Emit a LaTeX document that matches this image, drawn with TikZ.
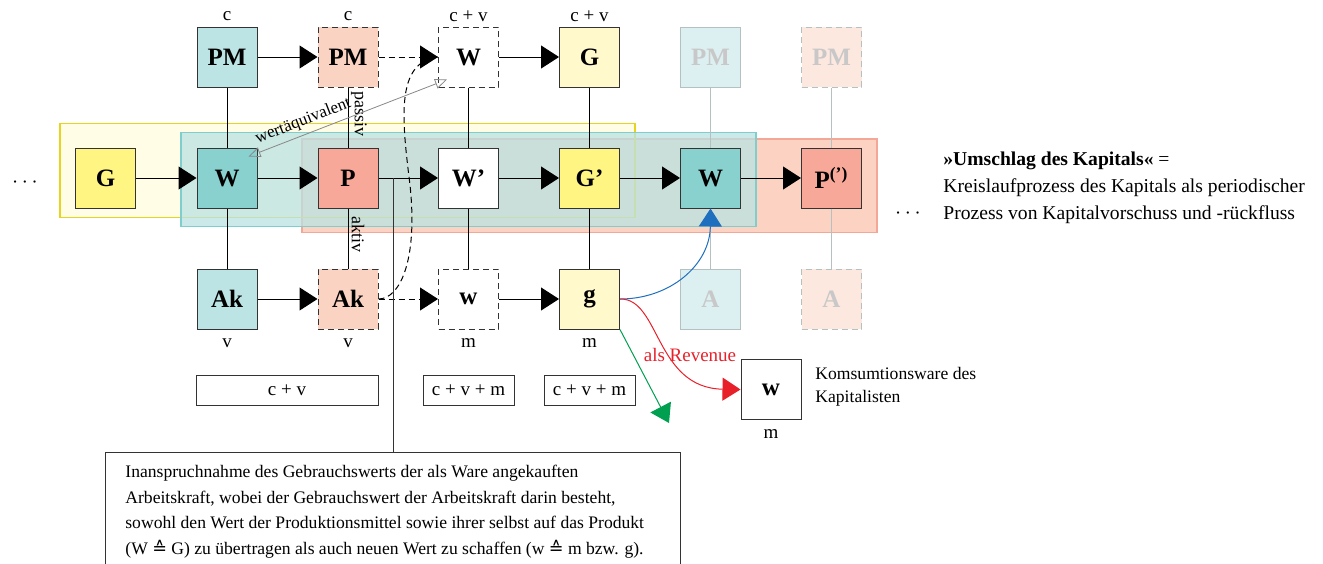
\documentclass[tikz,border=0pt]{standalone}
\usepackage{fontspec}
\setmainfont{Liberation Serif}
\newfontfamily\symf{DejaVu Sans}
\usetikzlibrary{arrows.meta,calc}
\pgfdeclarelayer{bg}
\pgfsetlayers{bg,main}
\definecolor{tealD}{HTML}{88D1CF}
\definecolor{tealL}{HTML}{BDE4E4}
\definecolor{salD}{HTML}{F7A898}
\definecolor{salL}{HTML}{FBD3C3}
\definecolor{yelD}{HTML}{FFF583}
\definecolor{yelL}{HTML}{FFF9CC}
\definecolor{fadeT}{HTML}{DDF0F1}
\definecolor{fadeS}{HTML}{FDE8E0}
\definecolor{fadeline}{HTML}{B5C0C0}
\definecolor{fadetext}{HTML}{C8C8C8}
\definecolor{boxline}{HTML}{333333}
\definecolor{yrectline}{HTML}{E8D41C}
\definecolor{yrectfill}{HTML}{FFFDE6}
\definecolor{trectline}{HTML}{7FCDCC}
\definecolor{trectfill}{HTML}{BBE2E2}
\definecolor{srectline}{HTML}{F3A796}
\definecolor{srectfill}{HTML}{FCD3C2}
\definecolor{blueA}{HTML}{1F6FBF}
\definecolor{redA}{HTML}{E8202A}
\definecolor{greenA}{HTML}{00A050}
\definecolor{wline}{HTML}{888888}
\tikzset{
  box/.style={draw=boxline, line width=0.5pt, minimum size=30pt, inner sep=0pt,
    font=\fontsize{12.5}{14}\selectfont\bfseries, text=black},
  dashpat/.style={dash pattern=on 3pt off 2pt},
  fbox/.style={box, draw=fadeline, text=fadetext},
  lab/.style={font=\fontsize{9.5}{11}\selectfont, inner sep=0pt},
  smalllab/.style={font=\fontsize{8.5}{10}\selectfont, inner sep=0pt},
  conn/.style={line width=0.5pt, draw=black},
  arr/.style={conn, -{Triangle[length=9pt,width=11.5pt]}},
  darr/.style={arr, dashpat},
  thinl/.style={draw=fadeline, line width=0.4pt},
  sumbox/.style={draw=boxline, line width=0.5pt, minimum height=15pt, inner sep=0pt,
    font=\fontsize{9.5}{11}\selectfont},
  wlinestyle/.style={draw=wline, line width=0.4pt,
    {Triangle[open,length=6pt,width=5pt]}-{Triangle[open,length=6pt,width=5pt]}},
  colarr/.style={line width=0.5pt, -{Triangle[length=9pt,width=11.5pt]}},
}
\begin{document}
\begin{tikzpicture}[x=0.5pt,y=-0.5pt]
\useasboundingbox (0,0) rectangle (1323,563);
\clip (0,0) rectangle (1323,563);

% background rectangles
\begin{pgfonlayer}{bg}
\fill[yrectfill] (60,123.5) rectangle (635,217.5);
\draw[draw=srectline, fill=srectfill, line width=0.75pt] (302,139) rectangle (877,232.5);
\draw[draw=yrectline, line width=0.75pt] (60,123.5) rectangle (635,217.5);
\draw[draw=trectline, fill=trectfill, fill opacity=0.76, line width=0.75pt] (181,132.7) rectangle (756,226.7);
\end{pgfonlayer}

% top row
\node[box, fill=tealL] (PM1) at (227,57) {PM};
\node[box, fill=salL, dashpat] (PM2) at (348,57) {PM};
\node[box, fill=white, dashpat] (W3t) at (468.5,57) {W};
\node[box, fill=yelL] (G4t) at (589.5,57) {G};
\node[fbox, fill=fadeT] (PM5) at (710.5,57) {PM};
\node[fbox, fill=fadeS, dashpat] (PM6) at (831.5,57) {PM};

% middle row
\node[box, fill=yelD] (G0) at (105.5,178) {G};
\node[box, fill=tealD] (W1) at (227,178) {W};
\node[box, fill=salD] (P2) at (348,178) {P};
\node[box, fill=white] (Wp3) at (468.5,178) {W’};
\node[box, fill=yelD] (Gp4) at (589.5,178) {G’};
\node[box, fill=tealD] (W5) at (710.5,178) {W};
\node[box, fill=salD] (P6) at (831.5,178) {P\textsuperscript{(’)}};

% bottom row
\node[box, fill=tealL] (Ak1) at (227,299) {Ak};
\node[box, fill=salL, dashpat] (Ak2) at (348,299) {Ak};
\node[box, fill=white, dashpat] (w3) at (468.5,299) {w};
\node[box, fill=yelL] (g4) at (589.5,299) {g};
\node[fbox, fill=fadeT] (A5) at (710.5,299) {A};
\node[fbox, fill=fadeS, dashpat] (A6) at (831.5,299) {A};

\node[box, fill=white] (wk) at (771,389.5) {w};

% value labels
\node[lab] (t1) at (227,16) {c};
\node[lab] (t2) at (348,16) {c};
\node[lab] (t3) at (468.5,16) {c + v};
\node[lab] (t4) at (589.5,16) {c + v};
\node[lab] (b1) at (227,343) {v};
\node[lab] (b2) at (348,343) {v};
\node[lab] (b3) at (468.5,343) {m};
\node[lab] (b4) at (589.5,343) {m};
\node[lab] (b5) at (771,434) {m};

% sum boxes
\node[sumbox, minimum width=91pt] (s1) at (287,390) {c + v};
\node[sumbox, minimum width=45.5pt] (s2) at (468.5,390) {c + v + m};
\node[sumbox, minimum width=45.5pt] (s3) at (589.5,390) {c + v + m};

% dots
\node[inner sep=0pt, font=\fontsize{11}{12}\selectfont] (dotsL) at (25,183) {$\cdots$};
\node[inner sep=0pt, font=\fontsize{11}{12}\selectfont] (dotsR) at (908,214) {$\cdots$};

% horizontal arrows
\draw[arr] (PM1) -- (PM2);
\draw[darr] (PM2) -- (W3t);
\draw[arr] (W3t) -- (G4t);
\draw[arr] (G0) -- (W1);
\draw[arr] (W1) -- (P2);
\draw[arr] (P2) -- (Wp3);
\draw[arr] (Wp3) -- (Gp4);
\draw[arr] (Gp4) -- (W5);
\draw[arr] (W5) -- (P6);
\draw[arr] (Ak1) -- (Ak2);
\draw[darr] (Ak2) -- (w3);
\draw[arr] (w3) -- (g4);

% vertical lines
\draw[conn] (PM1) -- (W1);
\draw[conn] (W1) -- (Ak1);
\draw[conn] (PM2) -- (P2);
\draw[conn] (P2) -- (Ak2);
\draw[conn] (W3t) -- (Wp3);
\draw[conn] (Wp3) -- (w3);
\draw[conn] (G4t) -- (Gp4);
\draw[conn] (Gp4) -- (g4);
\draw[thinl] (PM5) -- (W5);
\draw[thinl] (W5) -- (A5);
\draw[thinl] (PM6) -- (P6);
\draw[thinl] (P6) -- (A6);

\node[inner sep=0pt, font=\fontsize{9}{10}\selectfont, rotate=-90] (passiv) at (359,114) {passiv};
\node[inner sep=0pt, font=\fontsize{9}{10}\selectfont, rotate=-90] (aktiv) at (358,234) {aktiv};

% wertaequivalent
\draw[wlinestyle] ($(W1.north east)+(-9,9)$) -- ($(W3t.south west)+(9,-8)$)
  node[smalllab, pos=0.3, above=2.5pt, sloped] (wlab) {wertäquivalent};

% dashed curve
\draw[conn, dashpat] (Ak2.east) .. controls (400,299) and (418,260) .. (410,185)
  .. controls (402,120) and (395,62) .. (W3t.west);

% note box
\node[draw=boxline, line width=0.5pt, anchor=north west, minimum width=287.5pt,
  minimum height=70pt, inner sep=0pt] (note) at (105,452) {};
\node[anchor=north west, inner sep=0pt, align=left,
  font=\fontsize{8.8}{12.75}\selectfont] (notetext) at (125,465)
  {Inanspruchnahme des Gebrauchswerts der als Ware angekauften\\
   Arbeitskraft, wobei der Gebrauchswert der Arbeitskraft darin besteht,\\
   sowohl den Wert der Produktionsmittel sowie ihrer selbst auf das Produkt\\
   (W {\symf ≙} G) zu übertragen als auch neuen Wert zu schaffen (w {\symf ≙} m bzw. g).};
\coordinate (cp) at (393,178);
\draw[conn, draw=boxline] (cp) -- (cp |- note.north);

% coloured arrows
\draw[colarr, draw=blueA] (g4.east) .. controls (670,299) and (710,265) .. (W5.south);
\draw[colarr, draw=redA] (g4.east) .. controls (660,298) and (655,388) .. (wk.west);
\node[inner sep=0pt, text=redA, font=\fontsize{9.5}{11}\selectfont] (rev) at (690,355) {als Revenue};
\coordinate (gend) at (669,423);
\draw[colarr, draw=greenA] (g4.south east) -- (gend);

% texts
\node[anchor=west, align=left, inner sep=0pt, font=\fontsize{8.8}{11.5}\selectfont] (komsum) at (815,387)
  {Komsumtionsware des\\Kapitalisten};
\node[anchor=west, align=left, inner sep=0pt, font=\fontsize{9.8}{13.5}\selectfont] (umschlag) at (943,188)
  {\textbf{»Umschlag des Kapitals«} =\\Kreislaufprozess des Kapitals als periodischer\\Prozess von Kapitalvorschuss und -rückfluss};
\end{tikzpicture}
\end{document}
